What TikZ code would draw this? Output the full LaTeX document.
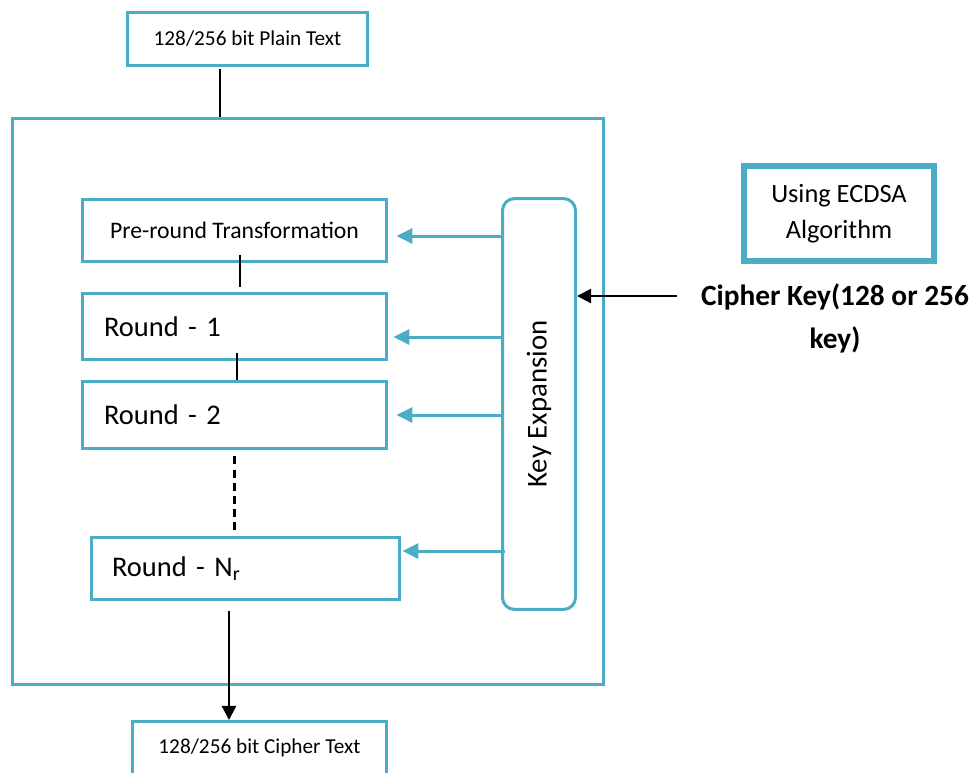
\documentclass[tikz,border=0pt]{standalone}
\usepackage{fontspec}
\setmainfont{Carlito}
\usepackage{tikz}
\usetikzlibrary{positioning}
\usetikzlibrary{arrows.meta}
\definecolor{aesblue}{RGB}{75,172,198}

\begin{document}
\begin{tikzpicture}[x=0.02cm,y=-0.02cm]
      \tikzstyle{every node}=[inner sep=0pt]
      \tikzstyle{blok}=[draw=aesblue, line width=1.7pt, fill=white]
      \tikzstyle{roundblok}=[blok, minimum width=6.08cm, inner xsep=0.43cm,
        text width=5.22cm, align=left, font=\fontsize{16.2}{19.5}\selectfont]
      \tikzstyle{link}=[line width=1.2pt]
      \tikzstyle{keyarrow}=[draw=aesblue, line width=1.7pt,
        -{Triangle[length=9pt,width=8.5pt]}]
      \tikzstyle{blackarrow}=[line width=1.2pt, -{Triangle[length=8pt,width=8pt]}]
      \useasboundingbox (0,0) rectangle (971,772);

      % outer frame
      \node[blok, fill=none, minimum width=11.82cm, minimum height=11.32cm] (outer) at (308,401.5) {};

      % input and output
      \node[blok, minimum width=4.8cm, minimum height=1.06cm,
        font=\fontsize{12.1}{14.5}\selectfont] (plain) at (247.5,39) {128/256 bit Plain Text};
      \node[blok, minimum width=5.08cm, minimum height=1.06cm,
        font=\fontsize{12.1}{14.5}\selectfont] (cipher) at (259.5,748) {128/256 bit Cipher Text};

      % rounds
      \node[blok, minimum width=6.08cm, minimum height=1.24cm,
        font=\fontsize{13.5}{16}\selectfont] (pre) at (234.5,230.5) {Pre-round Transformation};
      \node[roundblok, minimum height=1.32cm] (r1) at (234.5,326.5) {Round - 1};
      \node[roundblok, minimum height=1.34cm] (r2) at (234.5,415) {Round - 2};
      \node[roundblok, minimum width=6.16cm, minimum height=1.24cm, inner xsep=0.41cm,
        text width=5.34cm] (rn) at (245.5,568.5) {Round - N\textsubscript{r}};

      % key expansion
      \node[blok, rounded corners=0.24cm, rotate=90, minimum width=8.22cm, minimum height=1.46cm,
        font=\fontsize{16.4}{19.7}\selectfont] (key) at (539,404) {Key Expansion};

      % ECDSA note and key input
      \node[draw=aesblue, line width=3.4pt, minimum width=3.8cm, minimum height=1.9cm, align=center,
        font=\fontsize{15}{20.4}\selectfont] (ecdsa) at (839,213.5) {Using ECDSA\\Algorithm};
      \node[align=center, font=\fontsize{16.7}{24.4}\selectfont\bfseries] (ckey) at (835,318.5)
        {Cipher Key(128 or 256\\key)};
      \coordinate (keysrc) at (677,296);

      % connectors
      \draw[link] ([xshift=-0.55cm,yshift=-0.04cm]plain.south) -- ([xshift=-0.55cm]plain.south |- outer.north);
      \draw[link] ([xshift=0.11cm,yshift=0.16cm]pre.south) -- ([xshift=0.11cm,yshift=0.1cm]r1.north);
      \draw[link] ([xshift=0.05cm,yshift=0.15cm]r1.south) -- ([xshift=0.05cm]r2.north);
      \draw[link, line width=1.4pt, dash pattern=on 4.5pt off 3pt] ([yshift=-0.13cm]r2.south) -- ([yshift=0.11cm]r2.south |- rn.north);
      \draw[blackarrow] ([xshift=-0.33cm,yshift=-0.2cm]rn.south) -- ([xshift=-0.33cm]rn.south |- cipher.north);

      \draw[keyarrow] ([yshift=-0.11cm]pre.east -| key.north) -- ([xshift=0.17cm,yshift=-0.11cm]pre.east);
      \draw[keyarrow] ([yshift=-0.21cm]r1.east -| key.north) -- ([xshift=0.11cm,yshift=-0.21cm]r1.east);
      \draw[keyarrow] (r2.east -| key.north) -- ([xshift=0.17cm]r2.east);
      \draw[keyarrow] ([xshift=0.07cm,yshift=0.35cm]rn.east -| key.north) -- ([xshift=0.03cm,yshift=0.35cm]rn.east);
      \draw[blackarrow] (keysrc) -- (keysrc -| key.south);
\end{tikzpicture}
\end{document}
